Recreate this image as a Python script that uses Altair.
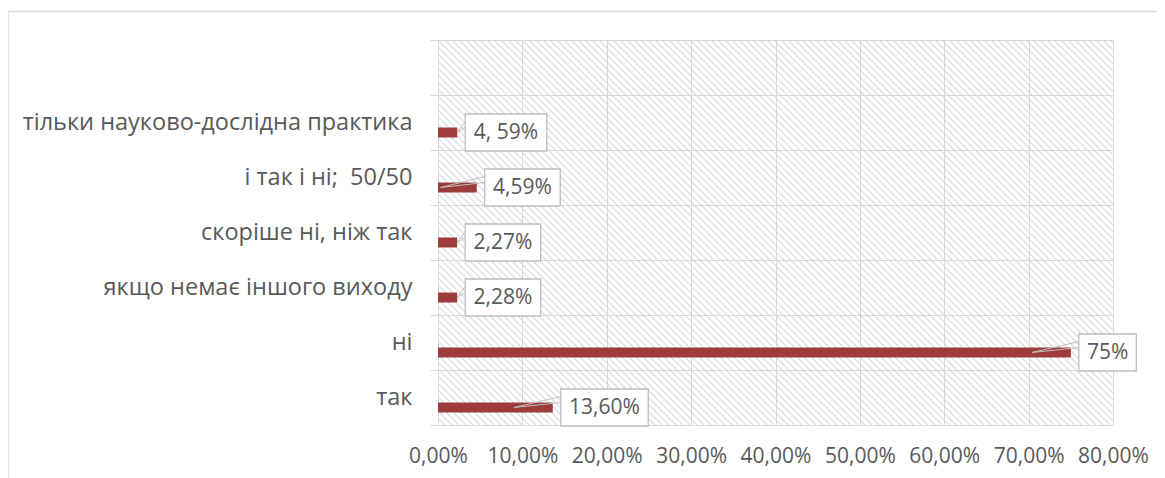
import altair as alt
import pandas as pd
import numpy as np

# ---- data ----
categories = ["так", "ні", "якщо немає іншого виходу", "скоріше ні, ніж так",
              "і так і ні;\u00a0 50/50", "тільки науково-дослідна практика"]
values = [13.60, 75.0, 2.28, 2.27, 4.59, 2.28]
labels = ["13,60%", "75%", "2,28%", "2,27%", "4,59%", "4, 59%"]
x_ticks = [0, 10, 20, 30, 40, 50, 60, 70, 80]

# ---- layout ----
PLOT_W, PLOT_H = 675, 385
XMAX = 80
K = PLOT_W / XMAX  # px per percentage point
FONT = "Open Sans"
TXT = "#595959"
GRID = "#d9d9d9"
BAR = "#9e3c3c"

order = [" "] + categories[::-1]

CW = {",": 6, " ": 6, "%": 17.5}
def text_px(s):
    return sum(CW.get(ch, 12) for ch in s)

df = pd.DataFrame({"cat": categories, "v": values, "label": labels})
df["box_l"] = df["v"] + 8 / K
df["box_r"] = df["box_l"] + (df["label"].map(text_px) + 16) / K
df["box_c"] = (df["box_l"] + df["box_r"]) / 2
df["tip"] = [v if v < 3 else max(0.3, v - 4.6) for v in df["v"]]

# hatch decoration (pixel space)
cs = np.arange(-PLOT_H, PLOT_W + 7, 7)
hatch = pd.DataFrame({"hx1": cs, "hy1": 0, "hx2": cs + PLOT_H, "hy2": PLOT_H})

xscale = alt.Scale(domain=[0, XMAX], nice=False)
yscale = alt.Scale(domain=order, paddingInner=0, paddingOuter=0)

xaxis = alt.Axis(values=x_ticks, labelExpr="replace(format(datum.value, '.2f'), '.', ',') + '%'",
                 grid=True, gridColor=GRID, ticks=False, domain=False, labelFontSize=21,
                 labelPadding=20, title=None, labelFont=FONT, labelColor=TXT,
                 labelOverlap=False, labelBound=False, labelFlush=False)
yaxis = alt.Axis(tickBand="extent", grid=True, gridColor=GRID, ticks=True, tickSize=8,
                 tickColor=GRID, domain=False, labelFontSize=23.5, labelPadding=18,
                 title=None, labelFont=FONT, labelColor=TXT, labelLimit=500)

hatch_layer = alt.Chart(hatch).mark_rule(clip=True, color="#d8d8d8", strokeWidth=1.1).encode(
    x=alt.X("hx1:Q", scale=None, axis=None),
    y=alt.Y("hy1:Q", scale=None, axis=None),
    x2="hx2:Q", y2="hy2:Q")

base = alt.Chart(df)

bars = base.mark_bar(size=10, yOffset=10, color=BAR).encode(
    x=alt.X("v:Q", scale=xscale, axis=xaxis),
    y=alt.Y("cat:N", sort=order, scale=yscale, axis=yaxis))

ptr1 = base.mark_rule(color="#bfbfbf", strokeWidth=1, yOffset=10, y2Offset=-1).encode(
    x=alt.X("tip:Q", scale=xscale), x2="box_l:Q",
    y=alt.Y("cat:N", sort=order, scale=yscale), y2="cat:N")
ptr2 = base.mark_rule(color="#bfbfbf", strokeWidth=1, yOffset=10, y2Offset=5).encode(
    x=alt.X("tip:Q", scale=xscale), x2="box_l:Q",
    y=alt.Y("cat:N", sort=order, scale=yscale), y2="cat:N")

boxes = base.mark_bar(size=37, yOffset=10, fill="white", stroke="#bfbfbf", strokeWidth=1.3).encode(
    x=alt.X("box_l:Q", scale=xscale), x2="box_r:Q",
    y=alt.Y("cat:N", sort=order, scale=yscale))

texts = base.mark_text(yOffset=10, fontSize=21, font=FONT, color=TXT, align="center",
                       baseline="middle").encode(
    x=alt.X("box_c:Q", scale=xscale),
    y=alt.Y("cat:N", sort=order, scale=yscale),
    text="label:N")

one = alt.Data(values=[{"a": 1}])
frame_l = alt.Chart(one).mark_rule(color=GRID, strokeWidth=1.3).encode(
    x=alt.value(-430), y=alt.value(-28.5), y2=alt.value(445))
frame_t = alt.Chart(one).mark_rule(color=GRID, strokeWidth=1.3).encode(
    x=alt.value(-430), x2=alt.value(730), y=alt.value(-28.5))

chart = alt.layer(hatch_layer, bars, ptr1, ptr2, boxes, texts, frame_l, frame_t).properties(
    width=PLOT_W, height=PLOT_H,
    autosize=alt.AutoSizeParams(type="none"),
    padding={"left": 430, "top": 32, "right": 44, "bottom": 60},
).configure_view(stroke=None)

chart.save("out.html", embed_options={"renderer": "svg", "actions": False})
